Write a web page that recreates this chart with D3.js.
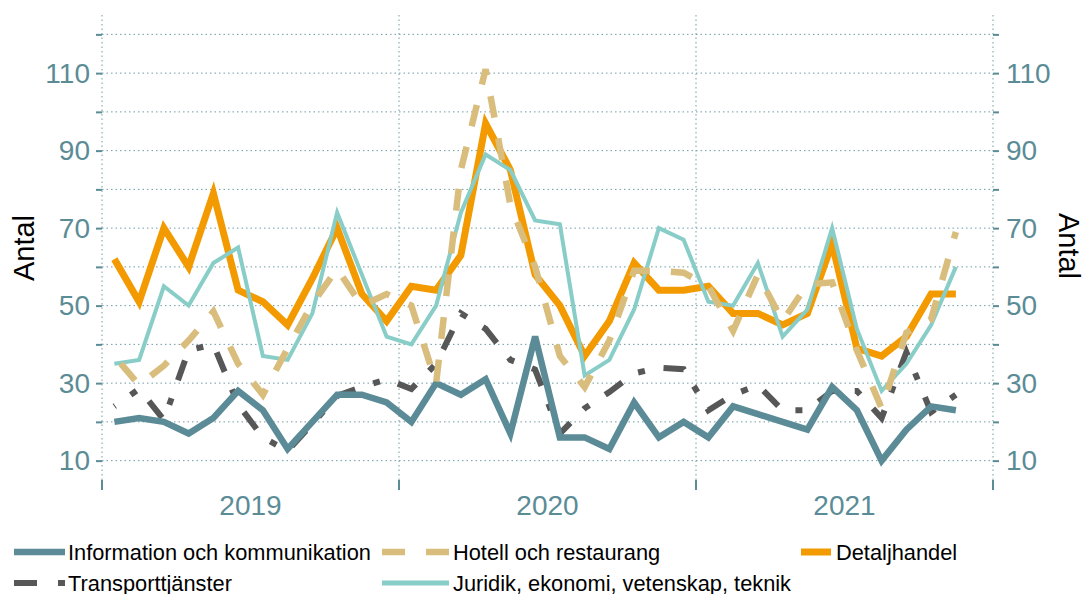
<!DOCTYPE html>
<meta charset="utf-8">
<head>
<style>
body { margin: 0; background: #fff; }
svg { font-family: "Liberation Sans", Arial, sans-serif; }
.grid line { stroke: #6f9ca6; stroke-width: 1; stroke-dasharray: 1.5,3; }
.axis text { fill: #5b8c96; font-size: 28px; }
.axis line { stroke: #5b8c96; stroke-width: 2; }
.axis path { display: none; }
.series { fill: none; stroke-linejoin: miter; stroke-linecap: butt; }
.legend text { font-size: 21.8px; fill: #000; }
.ylabel { font-size: 29px; fill: #000; }
</style>
</head>
<body>
<svg width="1087" height="594"></svg>
<script src="https://cdn.jsdelivr.net/npm/d3@7"></script>
<script>

var years = ["2019", "2020", "2021"];
var yTicks = [10, 20, 30, 40, 50, 60, 70, 80, 90, 100, 110, 120];

// monthly values, Jan 2019 - Nov 2021
var information = [20, 21, 20, 17, 21, 28, 23, 13, 20, 27, 27, 25,
                   20, 30, 27, 31, 17, 42, 16, 16, 13, 25, 16, 20,
                   16, 24, 22, 20, 18, 29, 23, 10, 18, 24, 23];
var hotell      = [37, 29.5, 34.5, 41, 48.5, 35, 27, 39, 50.5, 59.5, 50, 53,
                   50, 30, 85, 111, 76, 60, 37, 29, 41, 59, 59, 58.5,
                   55, 43.5, 58, 46, 55.5, 56, 38.5, 23.5, 43, 46.5, 69];
var detalj      = [62, 51, 70, 60, 79, 54, 51, 45, 57, 70, 53, 46,
                   55, 54, 63, 97, 85, 58, 50, 37, 46, 61, 54, 54,
                   55, 48, 48, 45, 48, 66, 39, 37, 42, 53, 53];
var transport   = [24, 28.5, 20.5, 38.5, 40, 24.5, 16, 12.5, 19.5, 26.7, 29, 31,
                   28.5, 35, 48, 44, 36, 33.5, 17, 23.5, 27.7, 32.5, 34, 33.6,
                   23, 27, 29.5, 23, 23, 28, 28, 21, 38, 22.5, 27];
var juridik     = [35, 36, 55, 50, 61, 65, 37, 36, 48, 74, 58, 42,
                   40, 50, 74, 89, 85, 72, 71, 32, 36, 49, 70, 67,
                   51, 50, 61, 42, 49, 70, 44, 28, 35, 45, 60];

var series = [
  { name: "Transporttjänster", values: transport, color: "#575757", width: 6, dash: "21,19,7,19", offset: 20 },
  { name: "Detaljhandel", values: detalj, color: "#f39a00", width: 7, dash: null, offset: 0 },
  { name: "Juridik, ekonomi, vetenskap, teknik", values: juridik, color: "#88cdc7", width: 4, dash: null, offset: 0 },
  { name: "Information och kommunikation", values: information, color: "#5a8b96", width: 6.5, dash: null, offset: 0 },
  { name: "Hotell och restaurang", values: hotell, color: "#d9bd7d", width: 6.5, dash: "22,21", offset: 33 }
];

var months = [];
years.forEach(function(yr) { d3.range(1, 13).forEach(function(m) { months.push(yr + "-" + m); }); });

var svg = d3.select("svg");
var pLeft = 102, pRight = 993, pTop = 15, pBottom = 480;

var x = d3.scaleBand().domain(months).range([pLeft, pRight]).padding(0);
var y = d3.scaleLinear().domain([5, 125]).range([pBottom, pTop]);
var px = function(d, i) { return x(months[i]) + x.bandwidth() / 2; };

// grid
var grid = svg.append("g").attr("class", "grid");
grid.selectAll(".h").data(yTicks).enter().append("line")
    .attr("x1", pLeft).attr("x2", pRight)
    .attr("y1", function(d) { return y(d); }).attr("y2", function(d) { return y(d); });
var vlines = [pLeft, x("2020-1"), x("2021-1"), pRight];
grid.selectAll(".v").data(vlines).enter().append("line")
    .attr("x1", function(d) { return d; }).attr("x2", function(d) { return d; })
    .attr("y1", pTop).attr("y2", pBottom);

// y axes
var fmt = function(d) { return d % 20 === 10 ? d : ""; };
svg.append("g").attr("class", "axis")
    .attr("transform", "translate(" + pLeft + ",0)")
    .call(d3.axisLeft(y).tickValues(yTicks).tickSize(6).tickPadding(6).tickFormat(fmt));
svg.append("g").attr("class", "axis")
    .attr("transform", "translate(" + pRight + ",0)")
    .call(d3.axisRight(y).tickValues(yTicks).tickSize(6).tickPadding(7).tickFormat(fmt));

// x axis: ticks at year boundaries, labels centred on years
var xa = svg.append("g").attr("class", "axis");
xa.selectAll("line").data(vlines).enter().append("line")
    .attr("x1", function(d) { return d; }).attr("x2", function(d) { return d; })
    .attr("y1", pBottom).attr("y2", pBottom + 10);
xa.selectAll("text").data(years).enter().append("text")
    .attr("x", function(d) { return (x(d + "-1") + x(d + "-12") + x.bandwidth()) / 2; })
    .attr("y", 515)
    .attr("text-anchor", "middle")
    .text(function(d) { return d; });

svg.append("text").attr("class", "ylabel")
    .attr("transform", "translate(34,248) rotate(-90)")
    .attr("text-anchor", "middle").text("Antal");
svg.append("text").attr("class", "ylabel")
    .attr("transform", "translate(1059,246) rotate(90)")
    .attr("text-anchor", "middle").text("Antal");

// lines
var line = d3.line().x(px).y(function(d) { return y(d); });
svg.selectAll(".series").data(series).enter().append("path")
    .attr("class", "series")
    .attr("d", function(d) { return line(d.values); })
    .attr("stroke", function(d) { return d.color; })
    .attr("stroke-width", function(d) { return d.width; })
    .attr("stroke-dasharray", function(d) { return d.dash; })
    .attr("stroke-dashoffset", function(d) { return d.offset; });

// legend
var byName = {};
series.forEach(function(s) { byName[s.name] = s; });
var legendItems = [
  { name: "Information och kommunikation", x0: 14, x1: 65, tx: 68, ty: 552 },
  { name: "Hotell och restaurang", x0: 382, x1: 449, tx: 453, ty: 552 },
  { name: "Detaljhandel", x0: 801, x1: 831, tx: 836, ty: 552 },
  { name: "Transporttjänster", x0: 14, x1: 65, tx: 68, ty: 583 },
  { name: "Juridik, ekonomi, vetenskap, teknik", x0: 382, x1: 449, tx: 453, ty: 583 }
];
var lg = svg.append("g").attr("class", "legend").selectAll("g").data(legendItems).enter().append("g");
lg.append("line")
    .attr("x1", function(d) { return d.x0; }).attr("x2", function(d) { return d.x1; })
    .attr("y1", function(d) { return d.ty; }).attr("y2", function(d) { return d.ty; })
    .attr("stroke", function(d) { return byName[d.name].color; })
    .attr("stroke-width", function(d) { return Math.max(byName[d.name].width, 5); })
    .attr("stroke-dasharray", function(d) { return byName[d.name].dash ? (d.name === "Transporttjänster" ? "23,21,7,21" : "23,21") : null; });
lg.append("text")
    .attr("x", function(d) { return d.tx; })
    .attr("y", function(d) { return d.ty; })
    .attr("dy", "0.35em")
    .text(function(d) { return d.name; });

</script>
</body>
